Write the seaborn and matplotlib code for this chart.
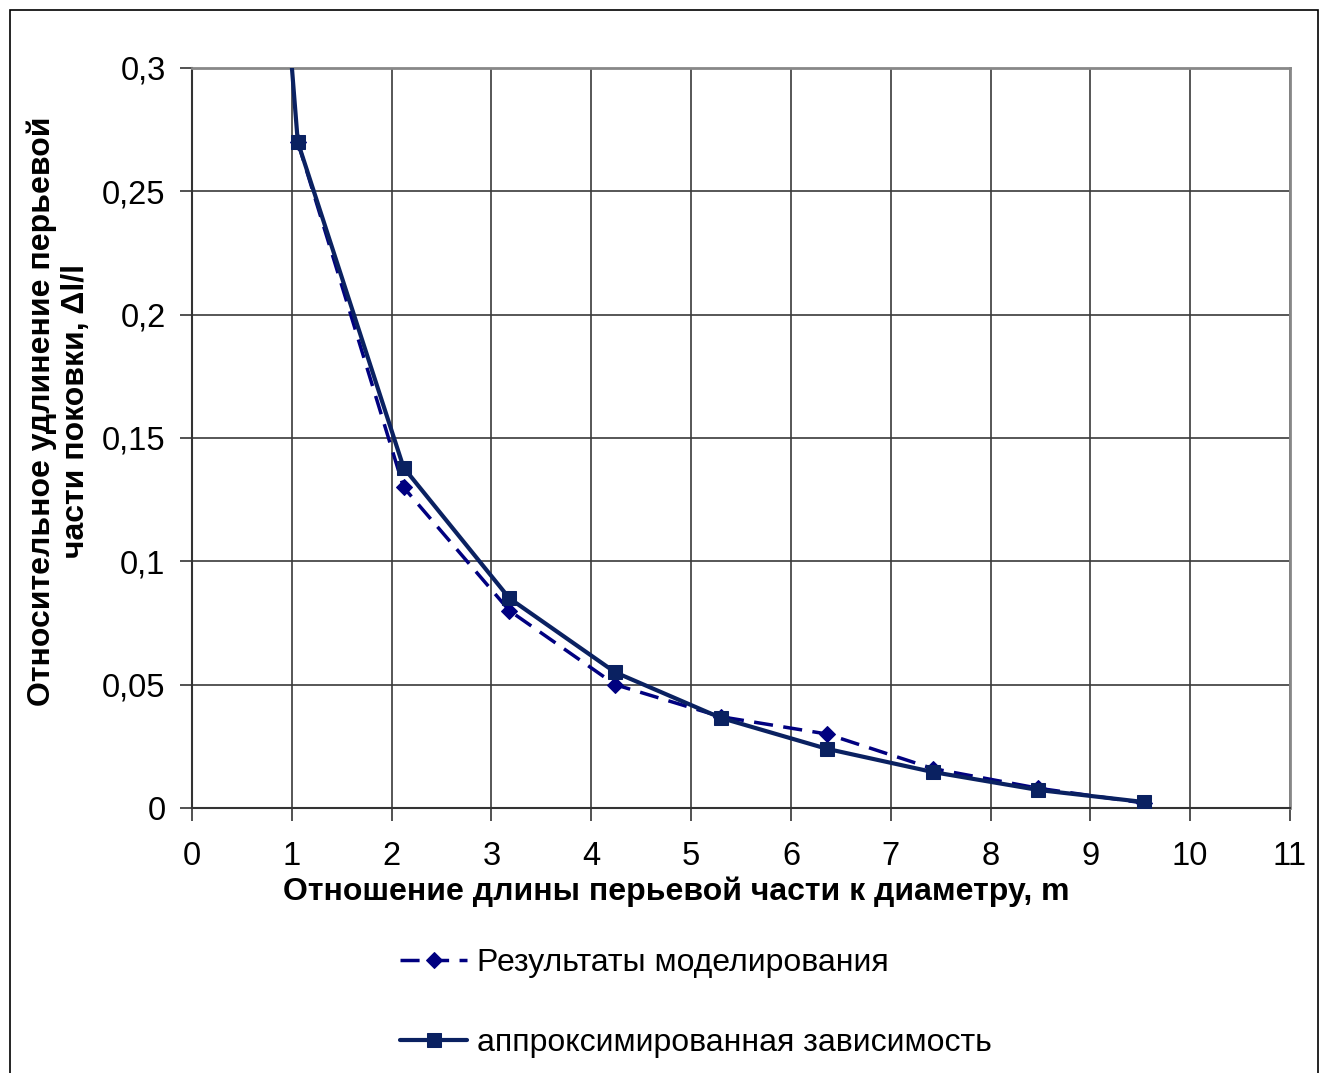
import matplotlib
matplotlib.use("Agg")
import matplotlib.pyplot as plt
from matplotlib.patches import Rectangle
import seaborn as sns
import pandas as pd

sns.set_theme(style="white")
plt.rcParams['font.family'] = ['Liberation Sans', 'DejaVu Sans']
plt.rcParams['text.color'] = 'black'

# Data
m_sim = [1.06, 2.12, 3.18, 4.24, 5.30, 6.36, 7.42, 8.48, 9.54]
dl_sim = [0.270, 0.130, 0.080, 0.050, 0.037, 0.030, 0.016, 0.008, 0.002]
m_apx = [0.53, 1.06, 2.12, 3.18, 4.24, 5.30, 6.36, 7.42, 8.48, 9.54]
dl_apx = [0.54, 0.270, 0.138, 0.085, 0.055, 0.0365, 0.024, 0.0146, 0.0073, 0.0024]
label_sim = "Результаты моделирования"
label_apx = "аппроксимированная зависимость"
x_ticks = list(range(0, 12))
y_ticks = [0, 0.05, 0.1, 0.15, 0.2, 0.25, 0.3]
y_tick_labels = ["0", "0,05", "0,1", "0,15", "0,2", "0,25", "0,3"]

df_sim = pd.DataFrame({"m": m_sim, "dl": dl_sim})
df_apx = pd.DataFrame({"m": m_apx, "dl": dl_apx})

fig = plt.figure(figsize=(13.28, 10.73), dpi=100)
ax = fig.add_axes([192/1328, 1-808/1073, (1290-192)/1328, (808-68)/1073])

sns.lineplot(data=df_sim, x="m", y="dl", ax=ax, sort=False, color="#000080",
             linestyle=(0, (5.5, 3)), linewidth=2.5, marker="D", markersize=8,
             markeredgecolor="#000080", label=label_sim, zorder=3)
sns.lineplot(data=df_apx, x="m", y="dl", ax=ax, sort=False, color="#0a2161",
             linestyle="-", linewidth=3, marker="s", markersize=10.5,
             markeredgecolor="#0a2161", label=label_apx, zorder=4)

ax.set_xlim(0, 11)
ax.set_ylim(0, 0.3)
ax.set_xticks(x_ticks)
ax.set_yticks(y_ticks)
ax.set_yticklabels(y_tick_labels)
ax.grid(True, color="#3a3a3a", linewidth=1.2)
ax.set_axisbelow(True)
for s in ["left", "bottom"]:
    ax.spines[s].set_color("#333333")
    ax.spines[s].set_linewidth(1.5)
for s in ["top", "right"]:
    ax.spines[s].set_color("#888888")
    ax.spines[s].set_linewidth(2)
ax.tick_params(axis="both", which="major", direction="out", length=9, width=1.2,
               color="#333333", labelsize=23.5, labelcolor="black",
               left=True, bottom=True)
ax.tick_params(axis="x", pad=15)
ax.tick_params(axis="y", pad=10)

ax.set_xlabel("Отношение длины перьевой части к диаметру, m", fontsize=23,
              fontweight="bold", color="black", labelpad=3)
ax.set_ylabel("Относительное удлинение перьевой\nчасти поковки, Δl/l", fontsize=23,
              fontweight="bold", color="black", labelpad=8, linespacing=1.15)
ax.xaxis.label.set_x(0.4408)
ax.yaxis.label.set_y(0.5365)

ax.get_legend().remove()
handles, labels = ax.get_legend_handles_labels()
fig.legend(handles, labels, loc="center", bbox_to_anchor=(0.524, 1-1003/1073),
           frameon=False, fontsize=23, labelspacing=1.55, handlelength=2.1,
           handletextpad=0.3, labelcolor="black")

fig.patches.append(Rectangle((10/1328, -0.01), (1318-10)/1328, 1-10/1073+0.01,
                             transform=fig.transFigure, fill=False,
                             edgecolor="black", linewidth=1.2))

fig.savefig("out.png", dpi=100, facecolor="white")
